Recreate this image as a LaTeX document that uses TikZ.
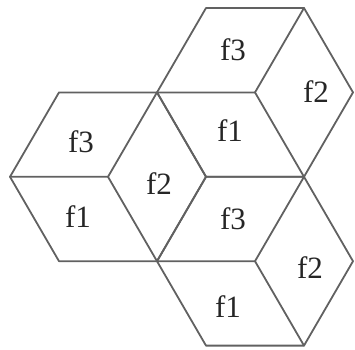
\documentclass[tikz,border=0pt]{standalone}
\usepackage{fontspec}
\setmainfont{Liberation Serif}
\begin{document}
\begin{tikzpicture}[x=1pt,y=-1pt,
  edge/.style={draw=black!62, line width=1.8pt, line join=round, line cap=round},
  lbl/.style={font=\fontsize{31}{33}\selectfont, text=black!85, inner sep=0pt}]
\useasboundingbox (0,0) rectangle (355,349);
% lattice points (i,j): x = 10 + 49 i, y = 8 + 84.4 j
\foreach \i in {0,...,7}{
  \foreach \j in {0,...,4}{
    \coordinate (p\i\j) at ({10+49*\i},{8+84.4*\j});
  }
}
% left hexagon
\draw[edge] (p11) -- (p31) -- (p42) -- (p33) -- (p13) -- (p02) -- cycle;
\draw[edge] (p02) -- (p22) -- (p31);
\draw[edge] (p22) -- (p33);
% top hexagon
\draw[edge] (p40) -- (p60) -- (p71) -- (p62) -- (p42) -- (p31) -- cycle;
\draw[edge] (p31) -- (p51) -- (p60);
\draw[edge] (p51) -- (p62);
% bottom hexagon
\draw[edge] (p42) -- (p62) -- (p73) -- (p64) -- (p44) -- (p33) -- cycle;
\draw[edge] (p33) -- (p53) -- (p62);
\draw[edge] (p53) -- (p64);
% labels
\node[lbl] (l1) at (81,142) {f3};
\node[lbl] (l2) at (78,217) {f1};
\node[lbl] (l3) at (159,184) {f2};
\node[lbl] (l4) at (233,50) {f3};
\node[lbl] (l5) at (316,92) {f2};
\node[lbl] (l6) at (230,131) {f1};
\node[lbl] (l7) at (233,219) {f3};
\node[lbl] (l8) at (310,268) {f2};
\node[lbl] (l9) at (228,307) {f1};
\end{tikzpicture}
\end{document}
